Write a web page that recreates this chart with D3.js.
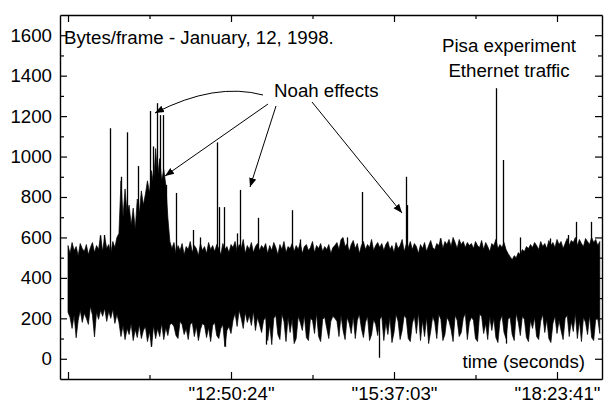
<!DOCTYPE html>
<html>
<head>
<meta charset="utf-8">
<script src="https://cdn.jsdelivr.net/npm/d3@7"></script>
<style>
  html, body { margin: 0; padding: 0; background: #fff; }
  svg { display: block; font-family: "Liberation Sans", Arial, sans-serif; }
  .axis path, .axis line { stroke: #000; }
  .axis text { font-size: 18.7px; fill: #000; font-family: "Liberation Sans", Arial, sans-serif; }
</style>
</head>
<body>
<div id="viz"></div>
<script>
// Bytes/frame trace, Pisa ethernet, 12 Jan 1998 – drawn as envelope + spikes

/* ---------- data ---------- */
const tickTimes  = [0, 10000, 20000, 30000];              // seconds from start of trace
const tickLabels = ["", "\"12:50:24\"", "\"15:37:03\"", "\"18:23:41\""];
const minorTimes = [5000, 15000, 25000];
const yTicks     = [0, 200, 400, 600, 800, 1000, 1200, 1400, 1600];
const yMinor     = [100, 300, 500, 700, 900, 1100, 1300, 1500];

const sampleStep = 125; // seconds between envelope samples

// upper edge of the trace (bytes/frame)
const bandTop = [
  560, 520, 575, 535, 555, 510, 570, 545, 530, 565, 515, 550, 575, 525, 560, 540, 610, 530, 605, 545, 565, 520, 580, 550, 600,
  620, 880, 700, 840, 720, 760, 660, 745, 640, 790, 720, 830, 760, 815, 880, 820, 930, 860, 1040, 900, 990, 880, 935, 860, 700, 580,
  545, 575, 520, 560, 535, 570, 515, 555, 540, 580, 525, 560, 545, 510, 570, 535, 555, 520, 575, 540, 560, 530, 565, 545, 515, 570, 540, 555, 525, 565,
  550, 580, 530, 565, 545, 590, 520, 560, 540, 575, 525, 555, 570, 535, 560,
  545, 570, 520, 560, 535, 575, 550, 515, 565, 540, 580, 525, 555, 545, 570, 530, 560, 540, 575, 520, 555, 565, 535, 550, 580, 525, 560, 545, 570, 530, 555, 540, 565, 520, 550,
  560, 575, 540, 590, 600, 555, 570, 530, 565, 585, 545, 570, 520, 560, 580, 540, 565, 550, 590, 535, 560, 575,
  550, 570, 535, 565, 580, 540, 560, 525, 575, 545, 560, 590, 530, 565, 550, 580, 540, 570, 555, 520, 565, 545, 575, 530, 560,
  585, 550, 540, 570, 560, 595, 545, 580, 565, 590, 555, 600, 575, 545, 590, 565, 580, 550, 575, 560,
  570, 545, 580, 560, 550, 585, 540, 575, 555, 530, 570, 560, 590, 545, 565, 550, 575, 540, 520, 505,
  490, 510, 500, 525, 515, 540, 530, 555, 545, 565, 550, 575, 560, 540, 580, 555, 570, 545, 585, 560,
  575, 550, 590, 565, 580, 545, 570, 595, 560, 585, 575, 600, 560, 590, 570, 555, 595, 580, 565, 600,
  575, 590, 560, 580
];

// lower edge of the trace
const bandBottom = [
  230, 205, 150, 215, 104, 190, 240, 180, 225, 200, 170, 260, 215, 108, 230, 195, 240, 210, 250, 185, 235, 200, 245, 175, 220,
  180, 110, 165, 95, 150, 120, 175, 90, 145, 105, 170, 100, 140, 160, 85, 135, 60, 165, 100, 150, 110, 175, 95, 155, 115, 170,
  175, 160, 115, 100, 185, 170, 120, 150, 95, 170, 180, 110, 160, 90, 145, 175, 165, 105, 155, 85, 165, 180, 115, 100, 150, 170, 60, 140, 160, 125,
  190, 225, 160, 240, 200, 150, 230, 180, 215, 165, 235, 140, 205, 170, 130,
  190, 205, 90, 170, 70, 200, 215, 120, 95, 220, 185, 85, 205, 130, 195, 75, 100, 210, 180, 140, 215, 105, 90, 200, 190, 125, 225, 110, 85, 195, 205, 150, 100, 185, 210,
  200, 185, 110, 215, 140, 95, 205, 175, 125, 210, 100, 190, 220, 150, 105, 180, 210, 90, 120, 195, 170, 115,
  195, 210, 90, 180, 120, 205, 80, 130, 220, 185, 95, 140, 215, 200, 100, 85, 175, 210, 125, 230,
  90, 190, 110, 205, 75, 135, 210, 180, 100, 220, 195, 90, 120, 205, 185, 145, 85, 215, 190, 110,
  130, 200, 225, 95, 180,
  205, 190, 100, 85, 220, 210, 125, 175, 95, 210, 140, 200, 105, 80, 185, 215, 130, 100, 195, 205,
  120, 90, 225, 180, 115, 210, 195, 105, 85, 190, 150, 205, 110, 95, 185, 220, 130, 195, 100, 80,
  175, 210, 125, 190, 140, 95, 200, 215, 110, 185, 135, 225, 100, 190, 85, 205, 180, 120, 215, 105,
  90, 195, 200, 125
];

// isolated bursts above the band: [seconds, bytes/frame]
const upSpikes = [
  [1960, 610], [2210, 612], [2580, 1140], [3250, 900], [3620, 1120], [4290, 953],
  [5030, 1225], [5215, 1050], [5460, 1264], [5644, 1205], [5828, 1205], [6012, 860],
  [6626, 820], [7669, 637], [8098, 600], [9141, 1070], [9264, 750], [9571, 750],
  [10368, 620], [10552, 835], [11656, 697], [13742, 735], [14233, 590], [17117, 600],
  [18037, 825], [20736, 900], [20798, 760], [22822, 595], [26258, 1338], [26687, 983],
  [27730, 600], [29571, 595], [30675, 612], [31166, 677], [32086, 677]
];

// deepest dips below the band
const downSpikes = [[5090, 60], [9630, 60], [12150, 70], [19080, 5], [26870, 75]];

/* ---------- layout ---------- */
const W = 605, H = 404;
const L = 60, R = 602, T = 15, B = 379;

const svg = d3.select("#viz").append("svg").attr("width", W).attr("height", H);

const x = d3.scaleLinear().domain([-491, 32761]).range([L, R]);
const y = d3.scaleLinear().domain([-100, 1700]).range([B, T]);

/* ---------- trace ---------- */
const band = bandTop.map((v, i) => ({ t: i * sampleStep, top: v, bot: bandBottom[i] }));

svg.append("path")
  .datum(band)
  .attr("fill", "#000")
  .attr("stroke", "#000")
  .attr("stroke-width", 0.7)
  .attr("stroke-linejoin", "bevel")
  .attr("d", d3.area().x(d => x(d.t)).y0(d => y(d.bot)).y1(d => y(d.top)));

svg.append("g").selectAll("line").data(upSpikes).join("line")
  .attr("x1", d => Math.round(x(d[0])) + 0.5).attr("x2", d => Math.round(x(d[0])) + 0.5)
  .attr("y1", y(480)).attr("y2", d => y(d[1]))
  .attr("stroke", "#000").attr("stroke-width", 1.3);

svg.append("g").selectAll("line").data(downSpikes).join("line")
  .attr("x1", d => Math.round(x(d[0])) + 0.5).attr("x2", d => Math.round(x(d[0])) + 0.5)
  .attr("y1", y(200)).attr("y2", d => y(d[1]))
  .attr("stroke", "#000").attr("stroke-width", 1.3);

/* ---------- axes ---------- */
svg.append("g").attr("class", "axis").attr("transform", `translate(0,${B})`)
  .call(d3.axisBottom(x).tickValues(tickTimes).tickSize(-7).tickSizeOuter(0).tickPadding(8)
    .tickFormat((d, i) => tickLabels[i]));
svg.append("g").attr("class", "axis").attr("transform", `translate(0,${B})`)
  .call(d3.axisBottom(x).tickValues(minorTimes).tickSize(-4).tickSizeOuter(0).tickFormat(""))
  .select(".domain").remove();

svg.append("g").attr("class", "axis").attr("transform", `translate(0,${T})`)
  .call(d3.axisTop(x).tickValues(tickTimes).tickSize(-7).tickSizeOuter(0).tickFormat(""));
svg.append("g").attr("class", "axis").attr("transform", `translate(0,${T})`)
  .call(d3.axisTop(x).tickValues(minorTimes).tickSize(-4).tickSizeOuter(0).tickFormat(""))
  .select(".domain").remove();

svg.append("g").attr("class", "axis").attr("transform", `translate(${L},0)`)
  .call(d3.axisLeft(y).tickValues(yTicks).tickSize(-7).tickSizeOuter(0).tickPadding(8)
    .tickFormat(d3.format("d")));
svg.append("g").attr("class", "axis").attr("transform", `translate(${L},0)`)
  .call(d3.axisLeft(y).tickValues(yMinor).tickSize(-4).tickSizeOuter(0).tickFormat(""))
  .select(".domain").remove();

svg.append("g").attr("class", "axis").attr("transform", `translate(${R},0)`)
  .call(d3.axisRight(y).tickValues(yTicks).tickSize(-7).tickSizeOuter(0).tickFormat(""));
svg.append("g").attr("class", "axis").attr("transform", `translate(${R},0)`)
  .call(d3.axisRight(y).tickValues(yMinor).tickSize(-4).tickSizeOuter(0).tickFormat(""))
  .select(".domain").remove();

svg.selectAll(".axis .domain").attr("stroke-width", 1.4);
svg.selectAll(".axis .tick line").attr("stroke-width", 1.2);

/* ---------- annotations ---------- */
const txt = (s, tx, ty, anchor) => svg.append("text")
  .attr("x", tx).attr("y", ty).attr("text-anchor", anchor || "start")
  .attr("font-size", "18.7px").attr("fill", "#000").text(s);

txt("Bytes/frame - January, 12, 1998.", 64, 44);
txt("Noah effects", 274, 97);
txt("Pisa experiment", 509, 52, "middle");
txt("Ethernet traffic", 509, 77, "middle");
txt("time (seconds)", 585, 368, "end");

svg.append("defs").append("marker")
  .attr("id", "arr").attr("viewBox", "0 0 10 10").attr("refX", 10).attr("refY", 5)
  .attr("markerWidth", 9).attr("markerHeight", 9).attr("markerUnits", "userSpaceOnUse")
  .attr("orient", "auto")
  .append("path").attr("d", "M0,1 L10,5 L0,9 Z").attr("fill", "#000");

const arrows = [
  "M263,95 Q215,82 155,113",
  "M268,104 L165,176",
  "M276,106 L250,187",
  "M312,102 L402,213"
];
svg.append("g").selectAll("path").data(arrows).join("path")
  .attr("d", d => d).attr("fill", "none").attr("stroke", "#000").attr("stroke-width", 1)
  .attr("marker-end", "url(#arr)");
</script>
</body>
</html>
